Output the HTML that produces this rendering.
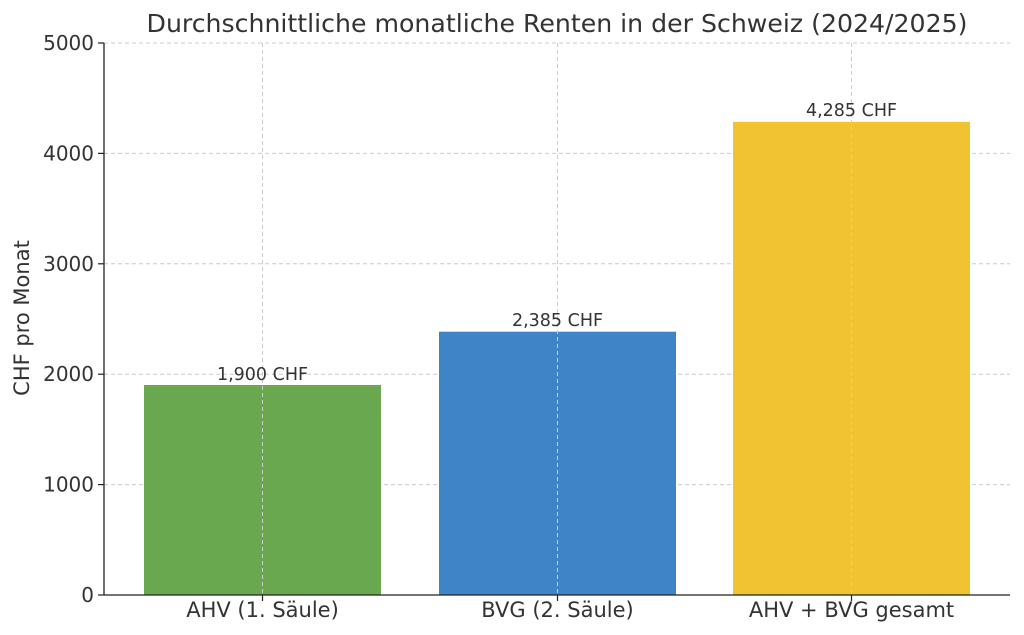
<!DOCTYPE html>
<html><head><meta charset="utf-8"><style>
body{margin:0;background:#fff;}
svg{display:block;font-family:"DejaVu Sans","Liberation Sans",sans-serif;}
</style></head><body>
<svg width="1024" height="635" viewBox="0 0 1024 635" xmlns="http://www.w3.org/2000/svg">
<rect width="1024" height="635" fill="#fff"/>
<g stroke="#cccccc" stroke-width="1" stroke-dasharray="4,3">
<line x1="104" x2="1010" y1="43" y2="43"/>
<line x1="104" x2="1010" y1="153.4" y2="153.4"/>
<line x1="104" x2="1010" y1="263.8" y2="263.8"/>
<line x1="104" x2="1010" y1="374.2" y2="374.2"/>
<line x1="104" x2="1010" y1="484.6" y2="484.6"/>
</g>
<rect x="144" y="385" width="237" height="210" fill="#6aa84f"/>
<rect x="439" y="331.7" width="237" height="263.3" fill="#3d85c6"/>
<rect x="733" y="121.9" width="237" height="473.1" fill="#f1c232"/>
<g stroke="#cccccc" stroke-width="1" stroke-dasharray="4,3">
<line x1="262.5" x2="262.5" y1="43" y2="595"/>
<line x1="557.5" x2="557.5" y1="43" y2="595"/>
<line x1="851.5" x2="851.5" y1="43" y2="595"/>
</g>
<line x1="104" x2="104" y1="43" y2="595" stroke="#222" stroke-width="1.3"/>
<line x1="104" x2="1010" y1="595" y2="595" stroke="#222" stroke-width="1.3"/>
<g stroke="#222" stroke-width="1.2">
<line x1="98" x2="104" y1="43" y2="43"/><line x1="98" x2="104" y1="153.4" y2="153.4"/>
<line x1="98" x2="104" y1="263.8" y2="263.8"/><line x1="98" x2="104" y1="374.2" y2="374.2"/>
<line x1="98" x2="104" y1="484.6" y2="484.6"/><line x1="98" x2="104" y1="595" y2="595"/>
<line x1="262.5" x2="262.5" y1="595" y2="601"/><line x1="557.5" x2="557.5" y1="595" y2="601"/>
<line x1="851.5" x2="851.5" y1="595" y2="601"/>
</g>
<g fill="#333" font-size="20" text-anchor="end">
<text x="94" y="50">5000</text><text x="94" y="160.4">4000</text>
<text x="94" y="270.8">3000</text><text x="94" y="381.2">2000</text>
<text x="94" y="491.6">1000</text><text x="94" y="602">0</text>
</g>
<g fill="#333" font-size="21" text-anchor="middle">
<text x="262.5" y="617">AHV (1. Säule)</text>
<text x="557.5" y="617">BVG (2. Säule)</text>
<text x="851.5" y="617">AHV + BVG gesamt</text>
</g>
<g fill="#333" font-size="17.5" text-anchor="middle">
<text x="262.5" y="380">1,900 CHF</text>
<text x="557.5" y="326">2,385 CHF</text>
<text x="851.5" y="116">4,285 CHF</text>
</g>
<text x="557" y="32" fill="#333" font-size="25.2" text-anchor="middle">Durchschnittliche monatliche Renten in der Schweiz (2024/2025)</text>
<text transform="translate(29,318) rotate(-90)" fill="#333" font-size="21" text-anchor="middle">CHF pro Monat</text>
</svg>
</body></html>
